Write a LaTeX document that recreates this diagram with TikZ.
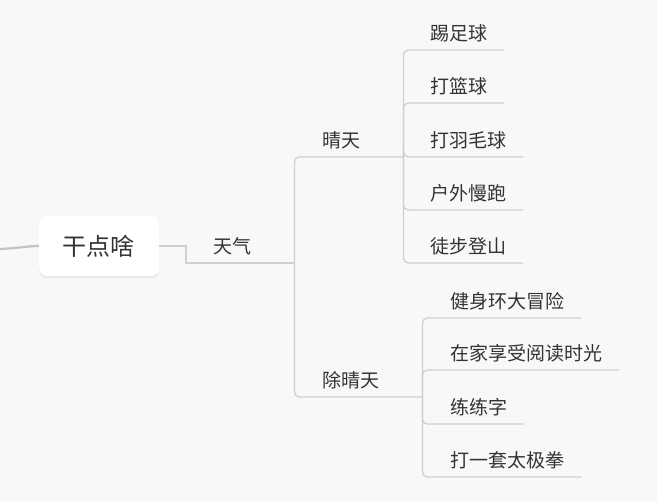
\documentclass[tikz,border=0pt]{standalone}
\usepackage{fontspec}
\setmainfont{Noto Sans CJK SC}
\usetikzlibrary{shadows}
\definecolor{bg}{HTML}{F8F8F8}
\definecolor{ln}{HTML}{CFCFCF}
\definecolor{lnroot}{HTML}{C4C4C4}
\definecolor{txt}{HTML}{333333}
\newcommand\mmpad[3]{\hspace*{#1}#2\hspace*{#3}}
\begin{document}
\begin{tikzpicture}[x=1pt,y=-1pt,
  topic/.style={anchor=south west, inner sep=0pt, minimum height=33pt, text=txt, font=\fontsize{19}{21}\selectfont},
  conn/.style={draw=ln, line width=1.3pt, rounded corners=5pt},
  rootbox/.style={fill=white, rounded corners=8pt, minimum width=120pt, minimum height=60pt, inner sep=0pt, text=txt, font=\fontsize{24}{26}\selectfont, drop shadow={opacity=0.12, shadow xshift=0pt, shadow yshift=-2pt}}]
\fill[bg] (0,0) rectangle (657,501);
\useasboundingbox (0,0) rectangle (657,501);
\node[rootbox] (root) at (99,246) {干点啥};
\coordinate (in) at (0,249);
\draw[draw=lnroot, line width=2.2pt] (in) .. controls (20,248) and (28,246) .. (root.west);
\node[topic] (tq) at (186,263) {\mmpad{27pt}{天气}{43pt}};
\node[topic] (qt) at (294,157) {\mmpad{28pt}{晴天}{43pt}};
\node[topic] (cq) at (294,397) {\mmpad{28pt}{除晴天}{43pt}};
\node[topic] (t1) at (403,50) {\mmpad{27pt}{踢足球}{17pt}};
\node[topic] (t2) at (403,103) {\mmpad{27pt}{打篮球}{17pt}};
\node[topic] (t3) at (403,157) {\mmpad{27pt}{打羽毛球}{17pt}};
\node[topic] (t4) at (403,210) {\mmpad{27pt}{户外慢跑}{17pt}};
\node[topic] (t5) at (403,263) {\mmpad{27pt}{徒步登山}{17pt}};
\node[topic] (c1) at (422,318) {\mmpad{28pt}{健身环大冒险}{17pt}};
\node[topic] (c2) at (422,370) {\mmpad{28pt}{在家享受阅读时光}{17pt}};
\node[topic] (c3) at (422,424) {\mmpad{28pt}{练练字}{17pt}};
\node[topic] (c4) at (422,477) {\mmpad{28pt}{打一套太极拳}{17pt}};
\draw[conn, rounded corners=0pt] (root.east) -| (tq.south west) -- (tq.south east);
\draw[conn] (tq.south east) |- (qt.south east);
\draw[conn] (tq.south east) |- (cq.south east);
\foreach \c in {t1,t2,t3,t4,t5} \draw[conn] (qt.south east) |- (\c.south east);
\foreach \c in {c1,c2,c3,c4} \draw[conn] (cq.south east) |- (\c.south east);
\end{tikzpicture}
\end{document}
